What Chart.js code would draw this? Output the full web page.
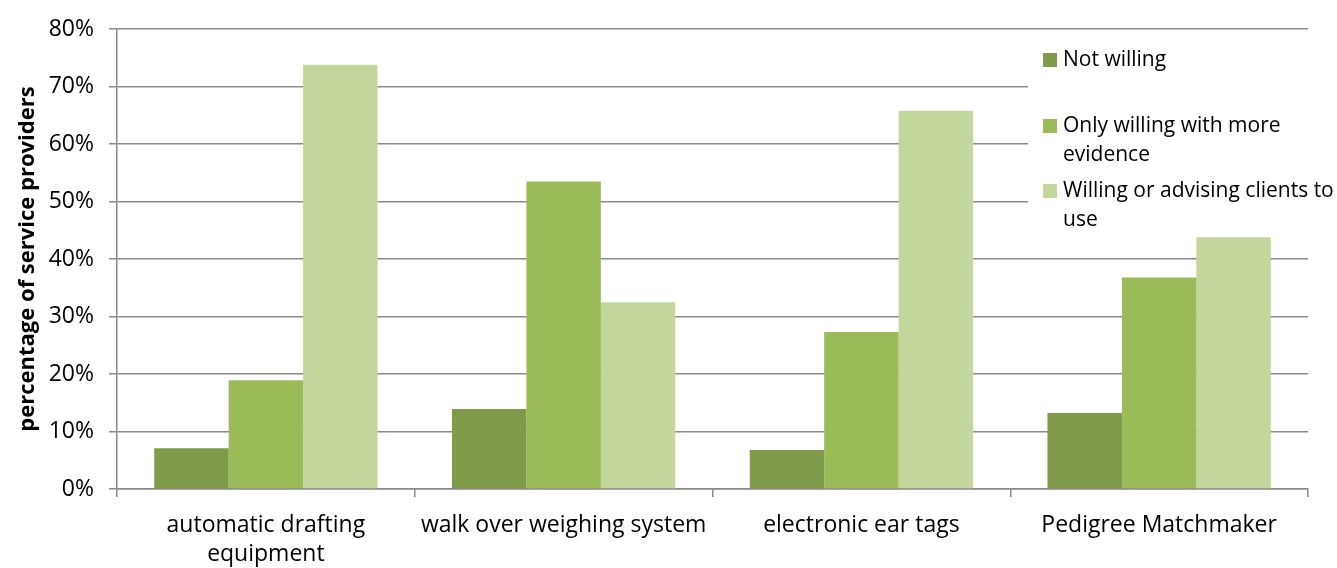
<!DOCTYPE html>
<html>
<head>
<meta charset="utf-8">
<script src="https://cdn.jsdelivr.net/npm/chart.js@4.4.0/dist/chart.umd.min.js"></script>
<style>
  html, body { margin: 0; padding: 0; background: #fff; }
  #wrap { width: 1337px; height: 568px; }
</style>
</head>
<body>
<div id="wrap"><canvas id="chart" width="1337" height="568"></canvas></div>
<script>
const categories = [
    ['automatic drafting', 'equipment'],
    'walk over weighing system',
    'electronic ear tags',
    'Pedigree Matchmaker'
];
const notWilling = [7.1, 13.9, 6.8, 13.2];
const onlyWithEvidence = [18.9, 53.5, 27.3, 36.8];
const willingOrAdvising = [73.8, 32.5, 65.8, 43.8];
const yTicks = [0, 10, 20, 30, 40, 50, 60, 70, 80];

const FONT = "'Open Sans', 'Noto Sans', sans-serif";
const GRID = '#8a8a8a';

// legend drawn inside the plot, with wrapped lines
const legendItems = [
    { color: '#7f9a48', lines: ['Not willing'], y: 60 },
    { color: '#9bbb59', lines: ['Only willing with more', 'evidence'], y: 126 },
    { color: '#c3d69b', lines: ['Willing or advising clients to', 'use'], y: 191 }
];

const boxLegend = {
    id: 'boxLegend',
    afterDraw(chart) {
        const ctx = chart.ctx;
        ctx.save();
        ctx.fillStyle = '#fff';
        ctx.fillRect(1028, 36, 309, 200);
        ctx.font = '21px ' + FONT;
        ctx.textBaseline = 'middle';
        legendItems.forEach(item => {
            ctx.fillStyle = item.color;
            ctx.fillRect(1043, item.y - 7, 14, 14);
            ctx.fillStyle = '#000';
            item.lines.forEach((t, i) => ctx.fillText(t, 1063, item.y + i * 29));
        });
        ctx.restore();
    }
};

new Chart(document.getElementById('chart'), {
    type: 'bar',
    data: {
        labels: categories,
        datasets: [
            { label: 'Not willing', data: notWilling, backgroundColor: '#7f9a48' },
            { label: 'Only willing with more evidence', data: onlyWithEvidence, backgroundColor: '#9bbb59' },
            { label: 'Willing or advising clients to use', data: willingOrAdvising, backgroundColor: '#c3d69b' }
        ]
    },
    options: {
        responsive: false,
        animation: false,
        layout: { padding: { top: 29, right: 29, left: 0, bottom: 0 } },
        datasets: { bar: { categoryPercentage: 0.75, barPercentage: 1.0 } },
        plugins: {
            legend: { display: false },
            tooltip: { enabled: false }
        },
        scales: {
            x: {
                offset: true,
                grid: { offset: true, drawOnChartArea: false, color: GRID, lineWidth: 1.5, tickLength: 8 },
                border: { color: GRID, width: 1.5 },
                ticks: { color: '#000', font: { family: FONT, size: 23, lineHeight: 1.26 }, maxRotation: 0, padding: 14 },
                afterFit(s) { s.height = 79; }
            },
            y: {
                min: 0,
                max: 80,
                afterBuildTicks(s) { s.ticks = yTicks.map(v => ({ value: v })); },
                grid: { color: GRID, lineWidth: 1.5, tickLength: 8 },
                border: { color: GRID, width: 1.5 },
                ticks: {
                    color: '#000',
                    font: { family: FONT, size: 23 },
                    padding: 15,
                    callback: v => v + '%'
                },
                title: {
                    display: true,
                    text: 'percentage of service providers',
                    color: '#000',
                    font: { family: FONT, size: 22, weight: 'bold' },
                    padding: { top: 15, bottom: 0 }
                },
                afterFit(s) { s.width = 117; }
            }
        }
    },
    plugins: [boxLegend]
});
</script>
</body>
</html>
